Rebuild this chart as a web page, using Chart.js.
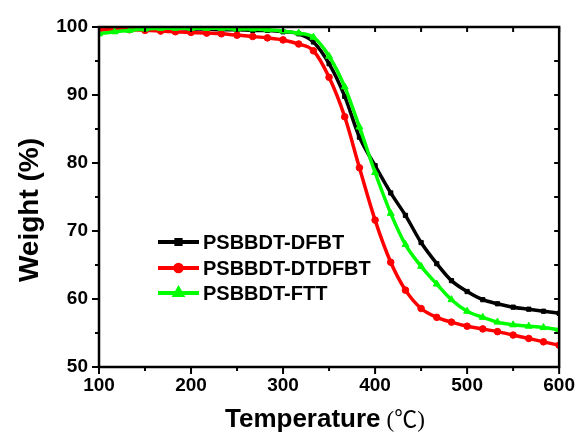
<!DOCTYPE html>
<html>
<head>
<meta charset="utf-8">
<script src="https://cdn.jsdelivr.net/npm/chart.js@4.4.0/dist/chart.umd.min.js"></script>
<style>
  html, body { margin: 0; padding: 0; background: #fff; }
  #wrap { width: 582px; height: 437px; }
</style>
</head>
<body>
<div id="wrap"><canvas id="tga" width="582" height="437"></canvas></div>
<script>
// Temperature points (degC), one marker each
const temps = [100, 117, 133, 150, 167, 183, 200, 217, 233, 250, 267, 283, 300, 317, 333,
    350, 367, 383, 400, 417, 433, 450, 467, 483, 500, 517, 533, 550, 567, 583, 600];

// Weight (%)
const dfbt = [99.6, 99.7, 99.8, 99.8, 99.8, 99.8, 99.7, 99.7, 99.6, 99.6, 99.5, 99.5, 99.3, 99.0, 97.8,
    94.6, 89.8, 83.8, 79.6, 75.6, 72.3, 68.3, 65.2, 62.7, 61.1, 59.9, 59.3, 58.8, 58.5, 58.2, 57.9];
const dtdfbt = [99.6, 99.6, 99.6, 99.5, 99.4, 99.3, 99.2, 99.1, 99.0, 98.8, 98.6, 98.4, 98.1, 97.5, 96.5,
    92.6, 86.8, 79.3, 71.6, 65.4, 61.3, 58.6, 57.3, 56.6, 56.0, 55.6, 55.2, 54.7, 54.2, 53.7, 53.2];
const ftt = [99.0, 99.3, 99.5, 99.7, 99.8, 99.8, 99.8, 99.8, 99.8, 99.7, 99.7, 99.6, 99.4, 99.1, 98.5,
    95.7, 91.2, 85.3, 78.6, 72.6, 68.0, 64.8, 62.2, 59.9, 58.2, 57.3, 56.6, 56.2, 56.0, 55.8, 55.5];

const seriesNames = ['PSBBDT-DFBT', 'PSBBDT-DTDFBT', 'PSBBDT-FTT'];
const xTitle = 'Temperature';
const xUnit = '(\u2103)';
const yTitle = 'Weight (%)';

const tickFont = { family: '"Liberation Sans", Arial, sans-serif', size: 19, weight: 'bold' };

function toPoints(ys) {
    return temps.map((t, i) => ({ x: t, y: ys[i] }));
}

// Frame, inward/outward ticks, titles and the legend
const decorations = {
    id: 'decorations',
    afterDraw(chart) {
        const ctx = chart.ctx;
        const { left, right, top, bottom } = chart.chartArea;
        const xs = chart.scales.x;
        const ys = chart.scales.y;
        ctx.save();
        ctx.strokeStyle = '#000';
        ctx.lineWidth = 2.5;
        ctx.strokeRect(left, top, right - left, bottom - top);

        ctx.lineWidth = 2;
        ctx.beginPath();
        xs.ticks.forEach(t => {
            const px = xs.getPixelForValue(t.value);
            const len = t.value % 100 === 0 ? 7 : 4;
            ctx.moveTo(px, bottom);
            ctx.lineTo(px, bottom + len);
            ctx.moveTo(px, top);
            ctx.lineTo(px, top + 5);
        });
        ys.ticks.forEach(t => {
            const py = ys.getPixelForValue(t.value);
            const len = t.value % 10 === 0 ? 7 : 4;
            ctx.moveTo(left, py);
            ctx.lineTo(left - len, py);
            ctx.moveTo(right, py);
            ctx.lineTo(right - 5, py);
        });
        ctx.stroke();

        // axis titles
        ctx.fillStyle = '#000';
        ctx.textBaseline = 'alphabetic';
        ctx.textAlign = 'left';
        ctx.font = 'bold 26px "Liberation Sans", Arial, sans-serif';
        ctx.fillText(xTitle, 225, 427);
        const tw = ctx.measureText(xTitle).width;
        ctx.font = '23px "Liberation Serif", "Noto Sans CJK SC", serif';
        ctx.fillText(xUnit, 225 + tw + 6, 427);

        ctx.save();
        ctx.translate(30, 210);
        ctx.rotate(-Math.PI / 2);
        ctx.textAlign = 'center';
        ctx.textBaseline = 'middle';
        ctx.font = 'bold 28px "Liberation Sans", Arial, sans-serif';
        ctx.fillText(yTitle, 0, 0);
        ctx.restore();

        // legend
        const rows = [242, 268, 293];
        chart.data.datasets.forEach((ds, i) => {
            const y = rows[i];
            ctx.strokeStyle = ds.borderColor;
            ctx.lineWidth = 4;
            ctx.beginPath();
            ctx.moveTo(158, y);
            ctx.lineTo(199, y);
            ctx.stroke();
            Chart.helpers.drawPoint(ctx, {
                pointStyle: ds.pointStyle, radius: ds.pointRadius, rotation: 0, borderWidth: 1
            }, 178.5, y);
            ctx.fillStyle = ds.borderColor;
            ctx.fill();
            ctx.fillStyle = '#000';
            ctx.font = 'bold 20px "Liberation Sans", Arial, sans-serif';
            ctx.textAlign = 'left';
            ctx.textBaseline = 'middle';
            ctx.fillText(ds.label, 203, y + 1);
        });
        ctx.restore();
    }
};

function createTgaChart() {
    const ctx = document.getElementById('tga').getContext('2d');
    const colors = ['#000000', '#ff0000', '#00ff00'];
    const styles = ['rect', 'circle', 'triangle'];
    const radii = [3, 3.3, 4];
    const values = [dfbt, dtdfbt, ftt];

    new Chart(ctx, {
        type: 'line',
        data: {
            datasets: values.map((v, i) => ({
                label: seriesNames[i],
                data: toPoints(v),
                borderColor: colors[i],
                backgroundColor: colors[i],
                pointBackgroundColor: colors[i],
                pointBorderColor: colors[i],
                pointStyle: styles[i],
                pointRadius: radii[i],
                pointBorderWidth: 1,
                borderWidth: 3.5,
                cubicInterpolationMode: 'monotone',
                order: 3 - i
            }))
        },
        options: {
            responsive: false,
            animation: false,
            events: [],
            layout: { padding: { top: 27, right: 22, left: 0, bottom: 0 } },
            plugins: {
                legend: { display: false },
                tooltip: { enabled: false }
            },
            scales: {
                x: {
                    type: 'linear',
                    min: 100,
                    max: 600,
                    grid: { display: false, drawTicks: false },
                    border: { display: false },
                    ticks: {
                        stepSize: 50,
                        autoSkip: false,
                        maxRotation: 0,
                        padding: 7,
                        color: '#000',
                        font: tickFont,
                        callback: v => (v % 100 === 0 ? v : '')
                    },
                    afterFit: s => { s.height = 437 - 367; }
                },
                y: {
                    min: 50,
                    max: 100,
                    grid: { display: false, drawTicks: false },
                    border: { display: false },
                    ticks: {
                        stepSize: 5,
                        autoSkip: false,
                        padding: 11,
                        color: '#000',
                        font: tickFont,
                        callback: v => (v % 10 === 0 ? v : '')
                    },
                    afterFit: s => { s.width = 99; }
                }
            }
        },
        plugins: [decorations]
    });
}

window.onload = () => {
    createTgaChart();
};
</script>
</body>
</html>
